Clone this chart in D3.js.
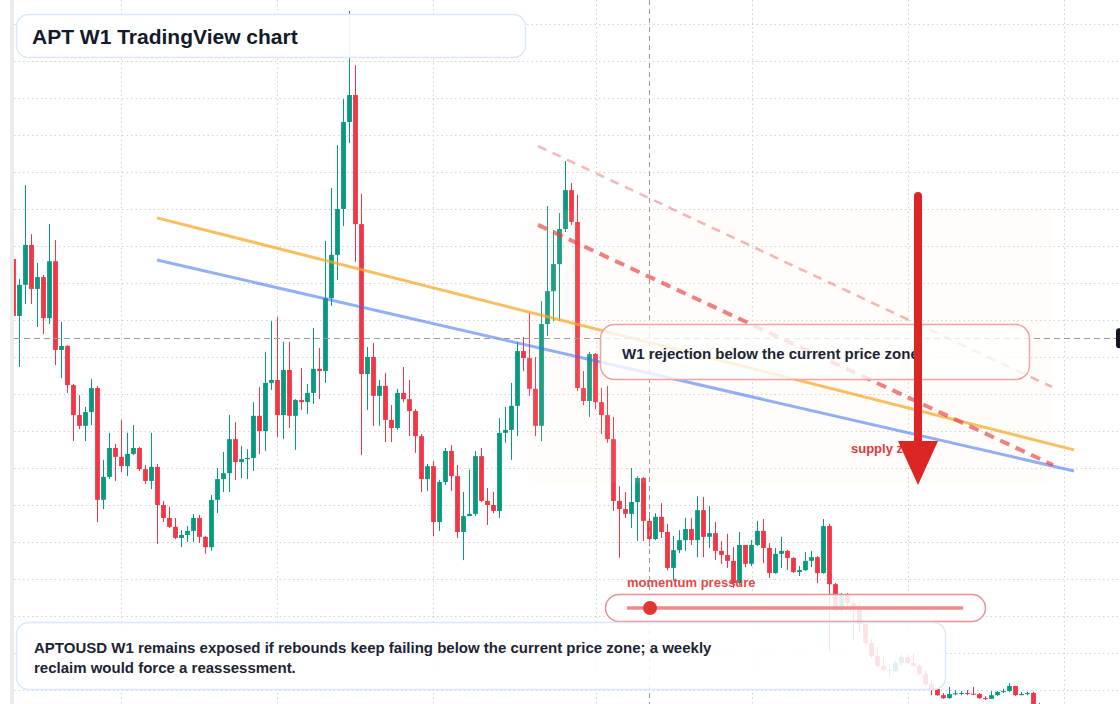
<!DOCTYPE html>
<html>
<head>
<meta charset="utf-8">
<script src="https://cdn.jsdelivr.net/npm/d3@7"></script>
<style>
  html, body { margin: 0; padding: 0; background: #ffffff; }
  svg { display: block; font-family: "Liberation Sans", Arial, Helvetica, sans-serif; }
</style>
</head>
<body>
<svg></svg>
<script>
// Dimension constants
const WIDTH = 1120;
const HEIGHT = 704;
const PLOT_LEFT = 14;

// weekly candles (open of each week = previous close)
const firstOpen = 12.65;
const closes = [
  11.11, 11.95, 13.03, 11.84, 12.16, 11.05, 12.59, 10.19, 10.30, 9.24,
  8.43, 8.14, 8.51, 9.16, 6.14, 6.76, 7.54, 7.30, 7.05, 7.38,
  7.54, 6.97, 6.65, 7.03, 6.00, 5.65, 5.41, 5.11, 5.19, 5.30,
  5.65, 5.14, 4.86, 6.14, 6.70, 6.86, 7.78, 7.16, 7.24, 7.27,
  8.41, 8.00, 9.30, 9.38, 8.43, 9.65, 8.41, 8.84, 8.78, 9.03,
  9.68, 9.62, 11.59, 12.76, 14.00, 16.35, 17.08, 13.59, 9.54, 10.00,
  8.95, 9.22, 8.30, 8.08, 9.03, 8.86, 8.54, 7.86, 6.70, 7.05,
  5.54, 6.62, 7.46, 6.78, 5.27, 5.70, 5.76, 7.32, 6.11, 6.00,
  5.84, 7.95, 8.03, 8.68, 10.16, 9.97, 9.14, 8.14, 10.89, 11.78,
  12.51, 13.46, 14.51, 13.65, 9.16, 8.81, 10.08, 8.78, 8.43, 7.78,
  6.11, 5.89, 5.76, 6.08, 6.73, 5.57, 5.08, 5.68, 5.27, 4.30,
  4.78, 5.05, 5.35, 5.05, 5.86, 5.14, 5.24, 4.76, 4.65, 4.49,
  3.89, 4.92, 4.41, 4.92, 5.30, 4.84, 4.16, 4.68, 4.76, 4.57,
  4.19, 4.24, 4.49, 4.59, 4.16, 5.43, 3.86, 3.16, 3.57, 3.35,
  3.22, 2.78, 2.27, 1.92, 1.65, 1.54, 1.51, 1.73, 1.89, 1.73,
  1.65, 1.43, 1.16, 1.03, 0.86, 0.78, 0.89, 0.91, 0.92, 0.90,
  0.89, 0.78, 0.76, 0.86, 0.95, 0.97, 1.11, 0.86, 0.89, 0.92,
  0.62, 0.54, 0.51, 0.46
];
const highs = [
  12.76, 12.11, 14.65, 13.32, 12.54, 12.22, 13.59, 13.16, 10.95, 10.32,
  9.27, 8.97, 8.65, 9.41, 9.22, 7.22, 7.95, 7.65, 8.30, 7.95,
  8.16, 7.57, 7.08, 7.95, 7.11, 6.11, 5.95, 5.65, 5.32, 5.43,
  5.76, 5.73, 5.16, 6.27, 7.00, 7.43, 8.43, 8.24, 7.59, 7.51,
  8.78, 9.19, 10.14, 10.97, 11.08, 10.41, 10.41, 8.86, 9.70, 9.27,
  10.78, 10.24, 13.14, 14.57, 15.73, 16.97, 19.35, 17.89, 14.41, 10.27,
  10.38, 9.38, 9.57, 8.70, 9.14, 9.73, 9.38, 8.59, 7.92, 7.11,
  7.19, 6.68, 7.54, 7.62, 7.08, 6.35, 6.95, 7.46, 7.54, 6.46,
  6.35, 8.35, 8.65, 9.30, 10.41, 10.54, 11.19, 10.00, 11.51, 14.08,
  13.43, 13.89, 15.30, 14.70, 14.38, 9.62, 10.14, 10.11, 9.16, 9.22,
  8.38, 6.51, 6.35, 7.00, 6.78, 6.76, 5.81, 5.78, 6.05, 5.49,
  5.16, 5.32, 5.65, 5.65, 6.24, 6.22, 5.97, 5.54, 5.03, 5.22,
  4.86, 5.27, 4.92, 5.05, 5.57, 5.62, 4.97, 4.84, 5.14, 4.78,
  4.59, 4.35, 4.73, 4.76, 4.62, 5.62, 5.49, 3.89, 3.62, 3.62,
  3.38, 3.35, 2.84, 2.38, 2.16, 1.89, 1.70, 1.81, 1.95, 1.97,
  2.00, 1.70, 1.54, 1.27, 1.05, 0.92, 1.08, 1.00, 0.97, 1.00,
  1.08, 0.92, 0.84, 0.97, 0.97, 1.03, 1.19, 1.11, 0.95, 0.95,
  0.95, 0.65, 0.59, 0.57
];
const lows = [
  11.00, 9.73, 11.43, 11.43, 10.81, 10.62, 10.89, 9.78, 9.43, 9.03,
  7.73, 8.05, 7.73, 8.16, 5.54, 5.89, 6.70, 6.65, 6.89, 6.78,
  7.35, 6.92, 6.57, 6.43, 4.95, 5.54, 5.38, 5.08, 4.86, 5.00,
  5.00, 4.97, 4.68, 4.76, 5.78, 6.35, 6.35, 6.68, 6.73, 6.70,
  6.92, 7.38, 7.46, 9.11, 7.84, 7.78, 8.08, 7.49, 8.57, 8.46,
  8.73, 8.86, 9.30, 11.38, 12.08, 13.54, 15.78, 12.57, 7.35, 8.57,
  8.14, 8.14, 7.70, 7.70, 8.03, 8.78, 7.86, 7.41, 6.35, 6.38,
  5.16, 5.30, 6.54, 6.38, 5.11, 4.51, 5.70, 5.70, 6.08, 5.46,
  5.78, 5.65, 7.68, 7.22, 7.86, 9.62, 8.95, 7.86, 7.73, 10.57,
  10.97, 10.97, 13.38, 13.57, 9.08, 8.70, 8.38, 8.59, 7.92, 7.68,
  5.84, 4.57, 5.65, 5.38, 5.03, 5.03, 4.89, 5.05, 5.11, 4.24,
  3.97, 4.70, 4.76, 4.92, 4.59, 4.59, 4.84, 4.51, 4.41, 4.30,
  3.76, 3.84, 4.32, 4.35, 4.89, 4.43, 4.03, 4.14, 4.30, 4.24,
  4.16, 4.08, 4.22, 4.32, 3.89, 4.14, 2.05, 3.11, 3.08, 3.27,
  2.38, 2.57, 2.22, 1.86, 1.62, 1.51, 1.38, 1.49, 1.65, 1.70,
  1.62, 1.41, 1.11, 0.86, 0.84, 0.76, 0.76, 0.86, 0.86, 0.86,
  0.86, 0.76, 0.73, 0.76, 0.84, 0.92, 0.95, 0.84, 0.86, 0.86,
  0.51, 0.46, 0.49, 0.41
];

// grid: price levels and half-year week marks
const priceTicks = d3.range(0, 20);
const gridWeeks = [17.9, 43.9, 69.9, 97.1, 123.1, 149.1, 175.1];

// drawn studies, [week, price] end points
const trendOrange = [[23.92, 13.76], [176.75, 7.49]];
const trendBlue = [[23.92, 12.62], [176.75, 6.92]];
const channelUpper = [[87.42, 15.70], [173.08, 9.19]];
const channelLower = [[87.42, 13.57], [173.25, 7.08]];
const zoneWeeks = [85.6, 173.1];
const zonePrices = [6.59, 13.97];
const crossWeek = 105.92;
const crossPrice = 10.51;
const arrowWeek = 150.75;
const arrowPrices = [14.35, 7.73, 6.54]; // shaft top, head base, tip

const opens = closes.map((c, i) => i === 0 ? firstOpen : closes[i - 1]);
const candles = closes.map((c, i) => ({ i, o: opens[i], c, h: highs[i], l: lows[i] }));

const UP = '#089981';
const DOWN = '#f23645';

// scales
const x = d3.scaleLinear().domain([0, 173]).range([13.5, 1051.5]);
const y = d3.scaleLinear().domain([0, 19]).range([727, 24]);

const svg = d3.select('svg')
    .attr('width', WIDTH)
    .attr('height', HEIGHT);

svg.append('defs').append('clipPath')
    .attr('id', 'plot-clip')
  .append('rect')
    .attr('x', PLOT_LEFT)
    .attr('y', 0)
    .attr('width', WIDTH - PLOT_LEFT)
    .attr('height', HEIGHT);

const plot = svg.append('g').attr('clip-path', 'url(#plot-clip)');

// left scale edge
svg.append('rect')
    .attr('x', 10)
    .attr('y', 0)
    .attr('width', 4)
    .attr('height', HEIGHT)
    .attr('fill', '#ebebeb');

// grid
plot.selectAll('.h-grid')
    .data(priceTicks).enter().append('line')
    .attr('class', 'h-grid')
    .attr('x1', PLOT_LEFT)
    .attr('x2', WIDTH)
    .attr('y1', d => Math.round(y(d)) + 0.5)
    .attr('y2', d => Math.round(y(d)) + 0.5)
    .attr('stroke', '#d2d2d2')
    .attr('stroke-dasharray', '1.5,3');

plot.selectAll('.v-grid')
    .data(gridWeeks).enter().append('line')
    .attr('class', 'v-grid')
    .attr('x1', d => Math.round(x(d)) + 0.5)
    .attr('x2', d => Math.round(x(d)) + 0.5)
    .attr('y1', 0)
    .attr('y2', HEIGHT)
    .attr('stroke', '#d2d2d2')
    .attr('stroke-dasharray', '1.5,3');

// candles
const candle = plot.selectAll('.candle')
    .data(candles).enter().append('g')
    .attr('class', 'candle');

candle.append('line')
    .attr('x1', d => x(d.i))
    .attr('x2', d => x(d.i))
    .attr('y1', d => y(d.h))
    .attr('y2', d => y(d.l))
    .attr('stroke', d => d.c >= d.o ? UP : DOWN)
    .attr('stroke-width', 1);

candle.append('rect')
    .attr('x', d => x(d.i) - 2.4)
    .attr('width', 4.8)
    .attr('y', d => y(Math.max(d.o, d.c)))
    .attr('height', d => Math.max(1, Math.abs(y(d.o) - y(d.c))))
    .attr('fill', d => d.c >= d.o ? UP : DOWN);

// supply zone shading
plot.append('rect')
    .attr('x', x(zoneWeeks[0]))
    .attr('y', y(zonePrices[1]))
    .attr('width', x(zoneWeeks[1]) - x(zoneWeeks[0]))
    .attr('height', y(zonePrices[0]) - y(zonePrices[1]))
    .attr('rx', 10)
    .attr('fill', '#ffdcb8')
    .attr('fill-opacity', 0.09);

// trend lines
const line = d3.line().x(d => x(d[0])).y(d => y(d[1]));

plot.append('path')
    .attr('d', line(trendOrange))
    .attr('fill', 'none')
    .attr('stroke', '#f5a623')
    .attr('stroke-opacity', 0.72)
    .attr('stroke-width', 3);

plot.append('path')
    .attr('d', line(trendBlue))
    .attr('fill', 'none')
    .attr('stroke', '#3b6ff0')
    .attr('stroke-opacity', 0.55)
    .attr('stroke-width', 3);

plot.append('path')
    .attr('d', line(channelUpper))
    .attr('fill', 'none')
    .attr('stroke', '#e53e3e')
    .attr('stroke-opacity', 0.38)
    .attr('stroke-width', 2.5)
    .attr('stroke-dasharray', '9,7');

plot.append('path')
    .attr('d', line(channelLower))
    .attr('fill', 'none')
    .attr('stroke', '#e53e3e')
    .attr('stroke-opacity', 0.65)
    .attr('stroke-width', 4)
    .attr('stroke-dasharray', '10,7');

// crosshair
plot.append('line')
    .attr('x1', Math.round(x(crossWeek)) + 0.5)
    .attr('x2', Math.round(x(crossWeek)) + 0.5)
    .attr('y1', 0)
    .attr('y2', HEIGHT)
    .attr('stroke', '#9a9a9a')
    .attr('stroke-dasharray', '5,4');

plot.append('line')
    .attr('x1', PLOT_LEFT)
    .attr('x2', 1116)
    .attr('y1', Math.round(y(crossPrice)) + 0.5)
    .attr('y2', Math.round(y(crossPrice)) + 0.5)
    .attr('stroke', '#9a9a9a')
    .attr('stroke-dasharray', '6,4');

svg.append('rect')
    .attr('x', 1116)
    .attr('y', y(crossPrice) - 10)
    .attr('width', 12)
    .attr('height', 20)
    .attr('rx', 3)
    .attr('fill', '#131722');

// note boxes
function noteBox(bx, by, bw, bh, r, stroke, opacity) {
    return svg.append('rect')
        .attr('x', bx)
        .attr('y', by)
        .attr('width', bw)
        .attr('height', bh)
        .attr('rx', r)
        .attr('fill', '#ffffff')
        .attr('fill-opacity', opacity)
        .attr('stroke', stroke)
        .attr('stroke-width', 1.5);
}

noteBox(16.5, 14.5, 509, 43, 12, '#dbe6fa', 0.92);
svg.append('text')
    .attr('x', 32)
    .attr('y', 43.5)
    .attr('font-size', 21)
    .attr('font-weight', 'bold')
    .attr('fill', '#131a2a')
    .text('APT W1 TradingView chart');

noteBox(600.5, 324.5, 429, 55, 14, '#f2a2a2', 0.78);
svg.append('text')
    .attr('x', 622)
    .attr('y', 359)
    .attr('font-size', 15)
    .attr('font-weight', 'bold')
    .attr('fill', '#1c2433')
    .text('W1 rejection below the current price zone');

// supply zone label and arrow
svg.append('text')
    .attr('x', 851)
    .attr('y', 453)
    .attr('font-size', 13)
    .attr('font-weight', 'bold')
    .attr('fill', '#e03a3a')
    .text('supply zone');

svg.append('line')
    .attr('x1', x(arrowWeek))
    .attr('x2', x(arrowWeek))
    .attr('y1', y(arrowPrices[0]))
    .attr('y2', y(arrowPrices[1]) + 4)
    .attr('stroke', '#dc2626')
    .attr('stroke-width', 8)
    .attr('stroke-linecap', 'round');

svg.append('path')
    .attr('d', `M${x(arrowWeek) - 20},${y(arrowPrices[1])} L${x(arrowWeek) + 20},${y(arrowPrices[1])} L${x(arrowWeek)},${y(arrowPrices[2])} Z`)
    .attr('fill', '#dc2626');

// momentum gauge
svg.append('text')
    .attr('x', 627)
    .attr('y', 587)
    .attr('font-size', 13)
    .attr('font-weight', 'bold')
    .attr('fill', '#e24848')
    .text('momentum pressure');

noteBox(605.5, 594.5, 380, 27, 13.5, '#ee8e8e', 0.86);

svg.append('line')
    .attr('x1', 627)
    .attr('x2', 963)
    .attr('y1', 608)
    .attr('y2', 608)
    .attr('stroke', '#ee8a8a')
    .attr('stroke-width', 3.5);

svg.append('circle')
    .attr('cx', 650)
    .attr('cy', 608)
    .attr('r', 7)
    .attr('fill', '#e23636');

// bottom note
noteBox(16.5, 622.5, 929, 67, 12, '#dbe6fa', 0.86);

const note = svg.append('text')
    .attr('font-size', 15)
    .attr('font-weight', 'bold')
    .attr('fill', '#1c2433');

note.append('tspan')
    .attr('x', 34)
    .attr('y', 653)
    .text('APTOUSD W1 remains exposed if rebounds keep failing below the current price zone; a weekly');

note.append('tspan')
    .attr('x', 34)
    .attr('y', 673)
    .text('reclaim would force a reassessment.');
</script>
</body>
</html>
